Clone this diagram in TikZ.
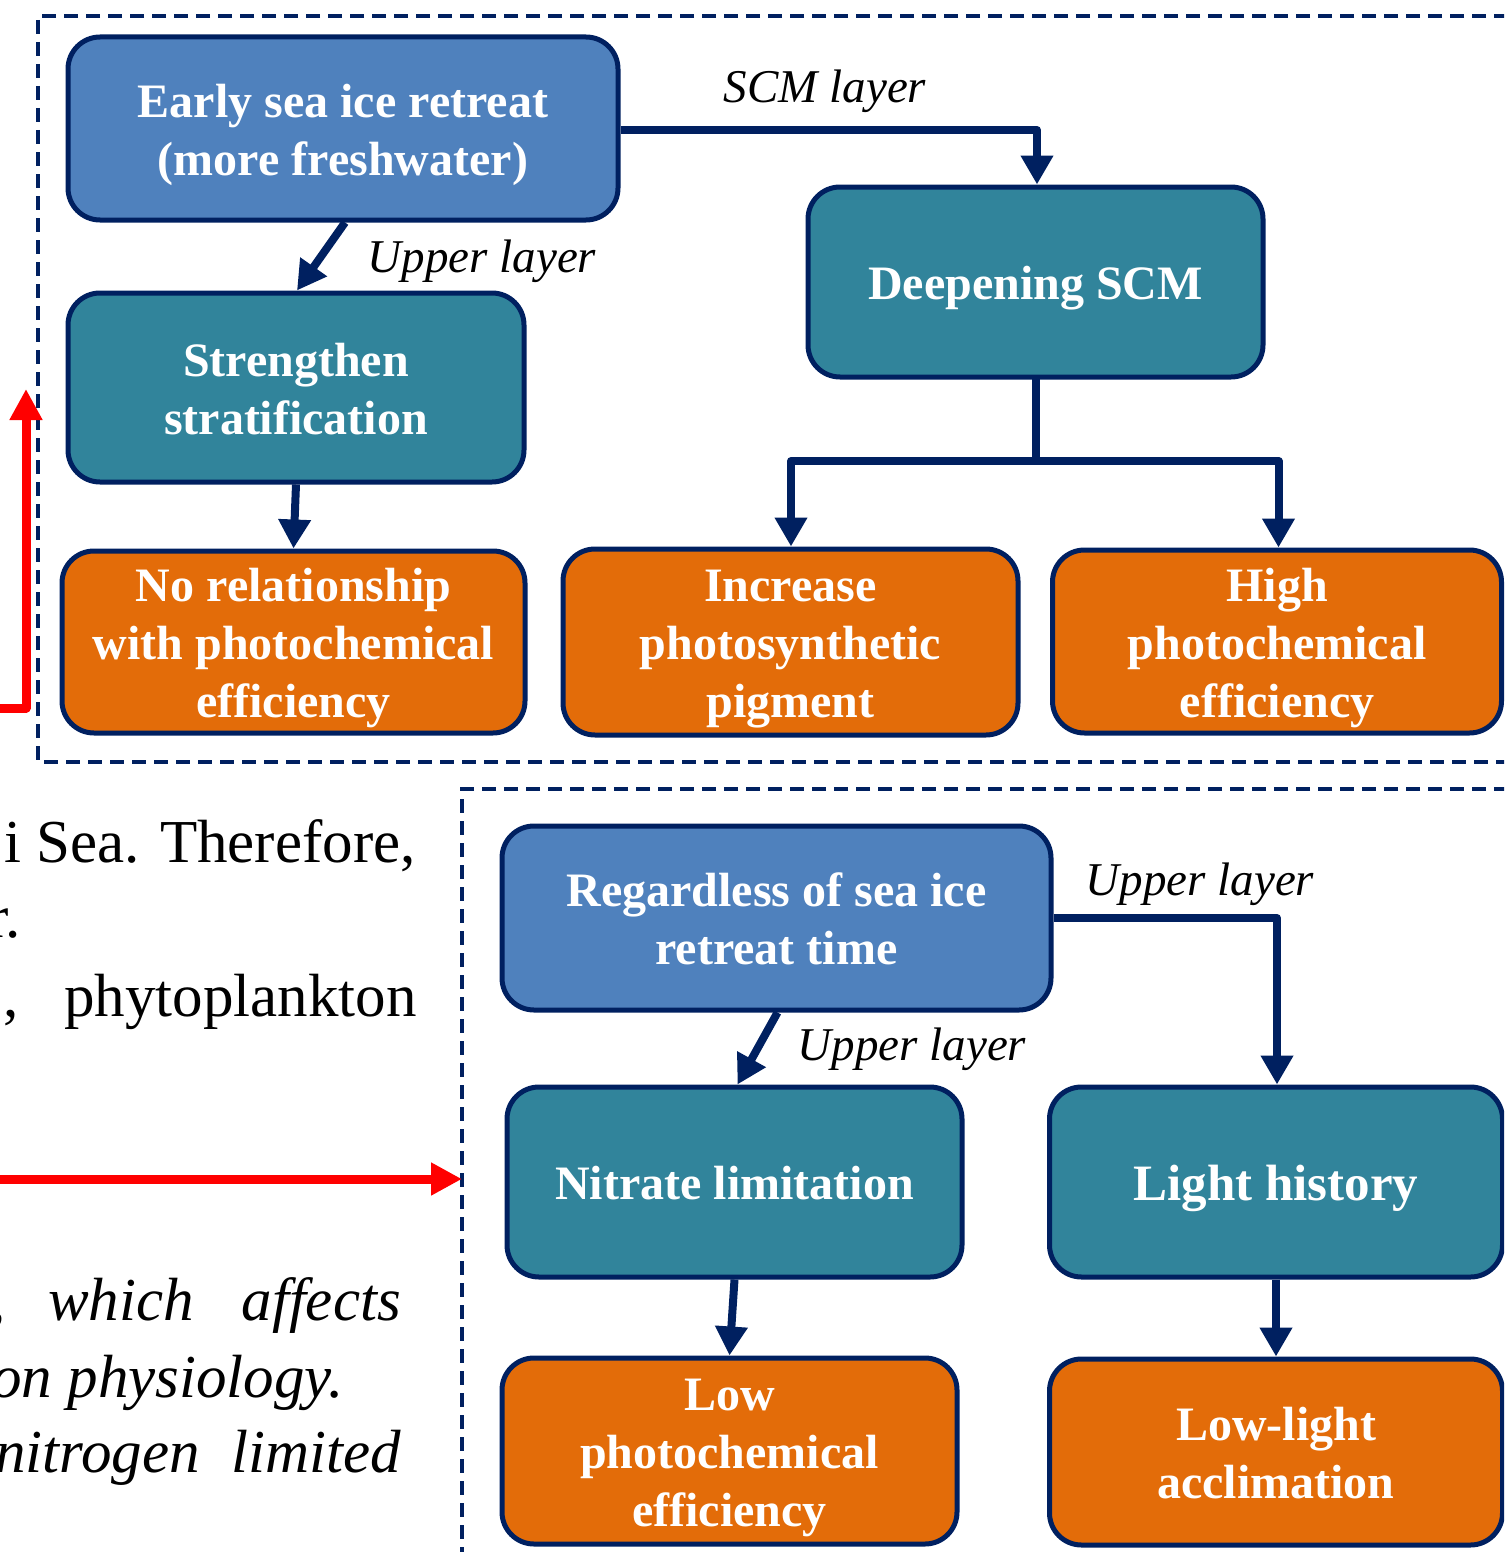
\documentclass[tikz,border=0pt]{standalone}
\usepackage{fontspec}
\setmainfont{Liberation Serif}
\usetikzlibrary{arrows.meta}
\definecolor{navy}{HTML}{002060}
\definecolor{cblue}{HTML}{4F81BD}
\definecolor{cteal}{HTML}{31849B}
\definecolor{corange}{HTML}{E36C09}
\definecolor{cred}{HTML}{FF0000}
\newcommand\bxs{\rule[-11.4pt]{0pt}{58pt}}
\newcommand\bxl{\rule[-9pt]{0pt}{58pt}}
\begin{document}
\begin{tikzpicture}[x=1pt,y=-1pt,
  box/.style={draw=navy, line width=5pt, rounded corners=32pt, text=white,
    font=\fontsize{48}{58}\selectfont\bfseries, align=center, inner sep=0pt},
  bluebox/.style={box, fill=cblue},
  tealbox/.style={box, fill=cteal},
  orangebox/.style={box, fill=corange},
  arr/.style={draw=navy, line width=8pt, line join=round, -{Triangle[width=31pt,length=29pt]}},
  stem/.style={draw=navy, line width=8pt, line cap=rect},
  redarr/.style={draw=cred, line width=9pt, line join=round, -{Triangle[width=31pt,length=31pt]}},
  lbl/.style={font=\fontsize{47}{56}\selectfont\itshape, inner sep=0pt, anchor=base},
  dashbox/.style={draw=navy, line width=4pt, dash pattern=on 14pt off 8pt},
  para/.style={font=\fontsize{61}{72}\selectfont, inner sep=0pt},
  parait/.style={font=\fontsize{61}{72}\selectfont\itshape, inner sep=0pt}
]
\path[use as bounding box] (0,0) rectangle (1504,1552);
\clip (0,0) rectangle (1504,1552);

% dashed frames
\draw[dashbox] (1530,16) -- (38,16) -- (38,762) -- (1530,762);
\draw[dashbox] (1530,789) -- (462,789) -- (462,1580);

% paragraph fragments
\node[para, anchor=base east] (p1) at (416,862) {i Sea. Therefore,};
\node[para, anchor=base east] (p2) at (21,937) {r.};
\node[para, anchor=base west] (p3a) at (3,1016) {,};
\node[para, anchor=base east] (p3b) at (417,1016) {phytoplankton};
\node[parait, anchor=base east] (p4a) at (6,1320) {,};
\node[parait, anchor=base west] (p4b) at (48,1320) {which};
\node[parait, anchor=base east] (p4c) at (401,1320) {affects};
\node[parait, anchor=base east] (p5) at (344,1397) {on physiology.};
\node[parait, anchor=base east] (p6a) at (200,1472) {nitrogen};
\node[parait, anchor=base east] (p6b) at (401,1472) {limited};

% boxes
\node[bluebox, minimum width=550pt, minimum height=183pt] (early) at (343,128.5) {\bxs Early sea ice retreat\\\bxs(more freshwater)};
\node[tealbox, minimum width=456pt, minimum height=189pt] (strat) at (296,387.5) {\bxs Strengthen\\\bxs stratification};
\node[tealbox, minimum width=455pt, minimum height=190pt] (deep) at (1035.5,282) {\bxs Deepening SCM};
\node[orangebox, minimum width=463pt, minimum height=182pt] (norel) at (293.5,642) {\bxs No relationship\\\bxs with photochemical\\\bxs efficiency};
\node[orangebox, minimum width=455pt, minimum height=186pt] (pigment) at (790.5,642) {\bxs Increase\\\bxs photosynthetic\\\bxs pigment};
\node[orangebox, minimum width=449pt, minimum height=183pt] (highpe) at (1277,641.5) {\bxs High\\\bxs photochemical\\\bxs efficiency};
\node[bluebox, minimum width=549pt, minimum height=184pt] (regard) at (776.5,918) {\bxs Regardless of sea ice\\\bxs retreat time};
\node[tealbox, minimum width=455pt, minimum height=190pt] (nitrate) at (734.5,1182) {\bxs Nitrate limitation};
\node[tealbox, minimum width=453pt, minimum height=190pt, font=\fontsize{51}{60}\selectfont\bfseries] (light) at (1276,1182) {\bxl Light history};
\node[orangebox, minimum width=455pt, minimum height=186pt] (lowpe) at (729.5,1451) {\bxs Low\\\bxs photochemical\\\bxs efficiency};
\node[orangebox, minimum width=453pt, minimum height=186pt] (lowlight) at (1276,1452) {\bxs Low-light\\\bxs acclimation};

% connectors
\draw[arr] ([yshift=-1.5pt]early.east) -| ([xshift=1.5pt]deep.north);
\draw[arr] ([xshift=2pt]early.south) -- ([xshift=1pt]strat.north);
\draw[arr] (strat.south) -- (norel.north);
\coordinate (split) at (1035.5,461);
\draw[stem] (deep.south) -- (split);
\draw[arr] (split) -| ([xshift=0.5pt]pigment.north);
\draw[arr] (split) -| ([xshift=1.5pt]highpe.north);
\draw[arr] (regard.east) -| ([xshift=1pt]light.north);
\draw[arr] ([xshift=1pt]regard.south) -- ([xshift=3pt]nitrate.north);
\draw[arr] (nitrate.south) -- (lowpe.north);
\draw[arr] (light.south) -- (light.south |- lowlight.north);

% labels
\node[lbl] (l1) at (825,103) {SCM layer};
\node[lbl] (l2) at (482,272) {Upper layer};
\node[lbl] (l3) at (1200,895) {Upper layer};
\node[lbl] (l4) at (912,1060) {Upper layer};

% red arrows
\coordinate (r1s) at (-10,708);
\coordinate (r1e) at (26,389);
\draw[redarr] (r1s) -| (r1e);
\coordinate (r2s) at (-10,1179);
\coordinate (r2e) at (462,1179);
\draw[redarr] (r2s) -- (r2e);
\end{tikzpicture}
\end{document}
